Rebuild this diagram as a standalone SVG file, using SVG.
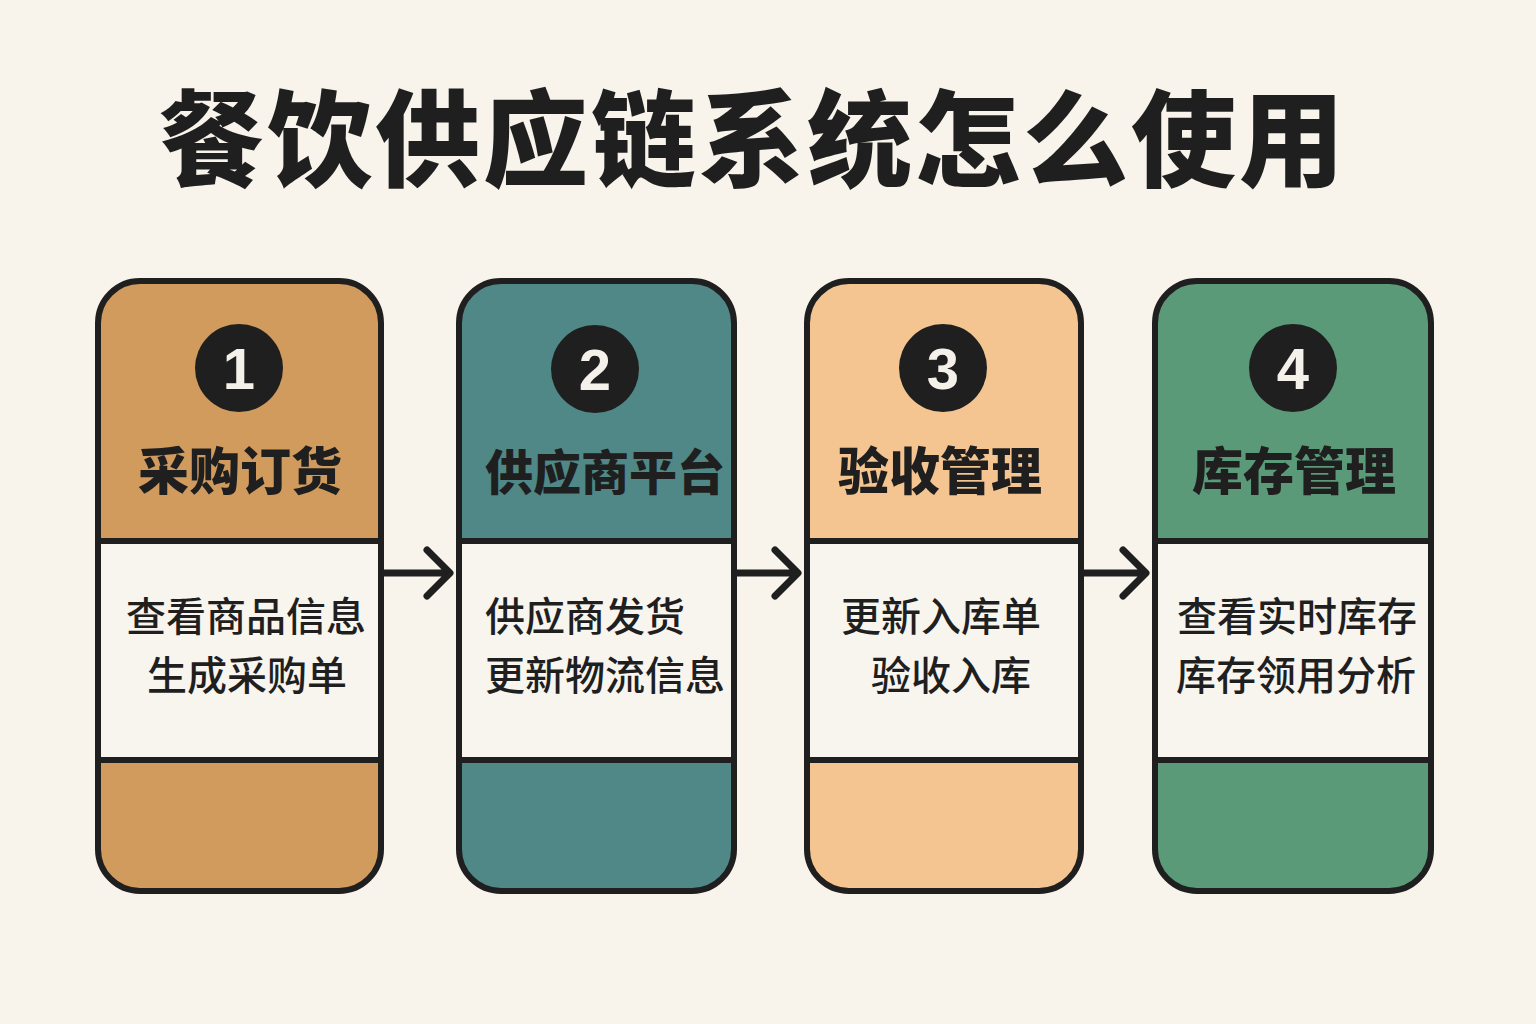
<svg xmlns="http://www.w3.org/2000/svg" width="1536" height="1024" viewBox="0 0 1536 1024">
<style>
.card{stroke:#1f1f1f;stroke-width:6}
.line{stroke:#1f1f1f;stroke-width:6;fill:none}
.num{font-family:"Liberation Sans","Noto Sans",sans-serif;font-weight:bold;font-size:58px;fill:#f4f1ea;text-anchor:middle}
.head{font-family:"Noto Sans CJK SC",sans-serif;font-weight:900;font-size:51px;fill:#1f1f1f;text-anchor:middle}
.body{font-family:"Noto Sans CJK SC",sans-serif;font-weight:500;font-size:40px;fill:#1f1f1f;text-anchor:middle}
.left{text-anchor:start}
.arrow{stroke:#1f1f1f;stroke-width:7;fill:none;stroke-linecap:round;stroke-linejoin:round}
</style>
<rect width="1536" height="1024" fill="#f8f4ec"/>
<text x="753" y="178" font-family="Noto Sans CJK SC,sans-serif" font-weight="900" font-size="105" letter-spacing="3" text-anchor="middle" fill="#1f1f1f">餐饮供应链系统怎么使用</text>

<g id="step1">
<rect class="card" x="98" y="281" width="283" height="610" rx="42" fill="#d29b5e"/>
<rect x="101" y="541" width="277" height="219" fill="#f8f5ef"/>
<line class="line" x1="98" y1="541" x2="381" y2="541"/>
<line class="line" x1="98" y1="760" x2="381" y2="760"/>
<circle cx="239" cy="368" r="44" fill="#1f1f1f"/>
<text class="num" x="239" y="389">1</text>
<text class="head" x="240" y="490">采购订货</text>
<text class="body" x="246" y="631">查看商品信息</text>
<text class="body" x="247" y="690">生成采购单</text>
</g>

<g id="step2">
<rect class="card" x="459" y="281" width="275" height="610" rx="42" fill="#4f8886"/>
<rect x="462" y="541" width="269" height="219" fill="#f8f5ef"/>
<line class="line" x1="459" y1="541" x2="734" y2="541"/>
<line class="line" x1="459" y1="760" x2="734" y2="760"/>
<circle cx="595" cy="369" r="44" fill="#1f1f1f"/>
<text class="num" x="595" y="390">2</text>
<text class="head" x="605" y="490" style="font-size:48px">供应商平台</text>
<text class="body left" x="485" y="631">供应商发货</text>
<text class="body left" x="485" y="690">更新物流信息</text>
</g>

<g id="step3">
<rect class="card" x="807" y="281" width="274" height="610" rx="42" fill="#f4c591"/>
<rect x="810" y="541" width="268" height="219" fill="#f8f5ef"/>
<line class="line" x1="807" y1="541" x2="1081" y2="541"/>
<line class="line" x1="807" y1="760" x2="1081" y2="760"/>
<circle cx="943" cy="368" r="44" fill="#1f1f1f"/>
<text class="num" x="943" y="389">3</text>
<text class="head" x="940" y="490">验收管理</text>
<text class="body" x="941" y="631">更新入库单</text>
<text class="body" x="951" y="690">验收入库</text>
</g>

<g id="step4">
<rect class="card" x="1155" y="281" width="276" height="610" rx="42" fill="#5b9a78"/>
<rect x="1158" y="541" width="270" height="219" fill="#f8f5ef"/>
<line class="line" x1="1155" y1="541" x2="1431" y2="541"/>
<line class="line" x1="1155" y1="760" x2="1431" y2="760"/>
<circle cx="1293" cy="368" r="44" fill="#1f1f1f"/>
<text class="num" x="1293" y="389">4</text>
<text class="head" x="1294" y="490">库存管理</text>
<text class="body" x="1297" y="631">查看实时库存</text>
<text class="body" x="1296" y="690">库存领用分析</text>
</g>

<g id="connectors">
<path class="arrow" d="M384 573 H449 M427 550 L450 573 L427 596"/>
<path class="arrow" d="M737 573 H797 M775 550 L798 573 L775 596"/>
<path class="arrow" d="M1084 573 H1145 M1123 550 L1146 573 L1123 596"/>
</g>
</svg>
